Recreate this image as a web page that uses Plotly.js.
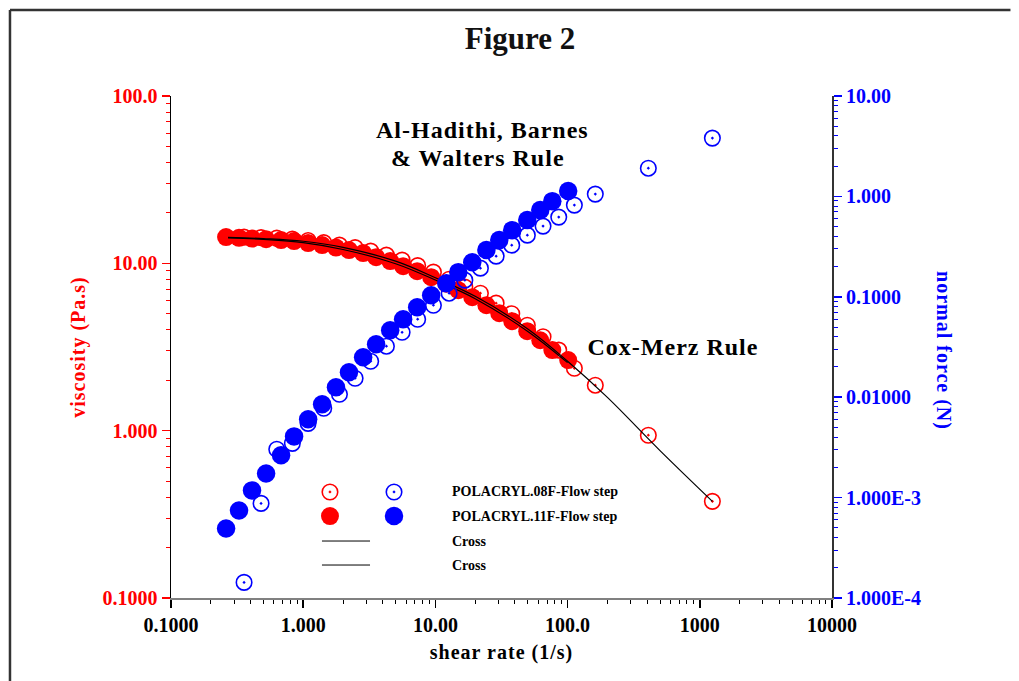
<!DOCTYPE html>
<html><head><meta charset="utf-8">
<script src="https://cdn.plot.ly/plotly-3.0.1.min.js"></script>
<style>
html,body{margin:0;padding:0;background:#fff;overflow:hidden;}
#chart{width:1019px;height:681px;}
.xtitle,.ytitle{letter-spacing:1px;}
.annotation[data-index="4"] .annotation-text,
.annotation[data-index="5"] .annotation-text,
.annotation[data-index="6"] .annotation-text,
.annotation[data-index="7"] .annotation-text{letter-spacing:1px;}
</style></head><body><div id="chart"></div>
<script>
// ---- data ----
const rate11  = [0.261,0.327,0.410,0.524,0.680,0.853,1.09,1.39,1.77,2.22,2.84,3.56,4.55,5.70,7.28,9.29,12.1,14.9,19.0,24.3,30.4,38.1,49.5,62.1,76.6,101];
const visc11  = [14.35,14.20,14.05,13.95,13.77,13.58,13.21,12.85,12.42,12.00,11.51,10.89,10.31,9.62,8.98,8.27,7.56,6.91,6.28,5.62,5.04,4.51,3.93,3.47,3.03,2.64];
const force11 = [4.93e-4,7.45e-4,1.18e-3,1.74e-3,2.64e-3,4.07e-3,6.02e-3,8.5e-3,0.01256,0.0177,0.0250,0.0337,0.0465,0.0598,0.0787,0.1037,0.1367,0.176,0.221,0.292,0.367,0.461,0.581,0.730,0.897,1.13];

const rate08  = [0.357,0.480,0.631,0.828,1.089,1.43,1.88,2.47,3.24,4.26,5.60,7.34,9.66,12.7,16.7,21.9,28.8,37.8,49.6,65.2,85.7,112.5,162,408,1245];
const visc08  = [14.35,14.25,14.15,13.95,13.68,13.30,12.85,12.42,11.83,11.19,10.45,9.69,8.86,8.04,7.21,6.63,5.78,5.00,4.27,3.64,3.03,2.36,1.87,0.939,0.378];
const force08 = [1.43e-4,8.75e-4,3.03e-3,3.47e-3,5.49e-3,7.75e-3,0.0107,0.01545,0.0228,0.0322,0.0443,0.0598,0.0824,0.1086,0.1465,0.193,0.254,0.327,0.411,0.506,0.622,0.819,1.054,1.91,3.81];

const crossRate08 = [0.27,0.5,1,2,5,10,20,50,100,200,500,1245];
const crossVisc08 = [14.3,14.05,13.55,12.45,10.3,8.2,6.35,4.05,2.6,1.58,0.76,0.378];
const crossRate11 = [0.27,0.5,1,2,5,10,20,50,100];
const crossVisc11 = [14.2,13.9,13.3,12.1,9.95,7.95,6.15,3.92,2.55];

const xTickVals = [0.1,1,10,100,1000,10000];
const xTickText = ['0.1000','1.000','10.00','100.0','1000','10000'];
const viscTickVals = [0.1,1,10,100];
const viscTickText = ['0.1000','1.000','10.00','100.0'];
const forceTickVals = [1e-4,1e-3,0.01,0.1,1,10];
const forceTickText = ['1.000E-4','1.000E-3','0.01000','0.1000','1.000','10.00'];

const legendLabels = ['POLACRYL.08F-Flow step','POLACRYL.11F-Flow step','Cross','Cross'];

// ---- styling ----
const F = '"Liberation Serif","Times New Roman",serif';
const RED = '#ff0000', BLUE = '#0000ff';
function minorTicks(lo, hi){ const a=[]; for(let d=lo; d<hi; d++){ for(let k=2;k<=9;k++) a.push(k*Math.pow(10,d)); } return a; }

const openRed  = {symbol:'circle-open-dot', size:15.5, color:RED, line:{color:RED,width:1.6}};
const fillRed  = {symbol:'circle', size:18, color:RED, line:{width:0}};
const openBlue = {symbol:'circle-open-dot', size:15.5, color:BLUE, line:{color:BLUE,width:1.6}};
const fillBlue = {symbol:'circle', size:18.5, color:BLUE, line:{width:0}};

const traces = [
  {x:rate08, y:visc08, xaxis:'x', yaxis:'y', mode:'markers', marker:openRed},
  {x:rate11, y:visc11, xaxis:'x', yaxis:'y', mode:'markers', marker:fillRed},
  {x:crossRate08, y:crossVisc08, xaxis:'x', yaxis:'y', mode:'lines', line:{color:'#000',width:1.2,shape:'spline'}},
  {x:crossRate11, y:crossVisc11, xaxis:'x', yaxis:'y', mode:'lines', line:{color:'#000',width:1.2,shape:'spline'}},
  {x:rate08, y:force08, xaxis:'x', yaxis:'y2', mode:'markers', marker:openBlue},
  {x:rate11, y:force11, xaxis:'x', yaxis:'y2', mode:'markers', marker:fillBlue},
];

// legend drawn on a hidden overlay (0..1 axes spanning the plot area)
const LX_RED = 0.2405, LX_BLUE = 0.3374, LX_TEXT = 0.4221;
const LROWS = [0.2112, 0.1633, 0.1135, 0.0657];
traces.push({x:[LX_RED], y:[LROWS[0]], xaxis:'x3', yaxis:'y3', mode:'markers', marker:openRed});
traces.push({x:[LX_BLUE], y:[LROWS[0]], xaxis:'x3', yaxis:'y3', mode:'markers', marker:openBlue});
traces.push({x:[LX_RED], y:[LROWS[1]], xaxis:'x3', yaxis:'y3', mode:'markers', marker:fillRed});
traces.push({x:[LX_BLUE], y:[LROWS[1]], xaxis:'x3', yaxis:'y3', mode:'markers', marker:fillBlue});
traces.push({x:[0.2284,0.3011], y:[LROWS[2],LROWS[2]], xaxis:'x3', yaxis:'y3', mode:'lines', line:{color:'#000',width:1}});
traces.push({x:[0.2284,0.3011], y:[LROWS[3],LROWS[3]], xaxis:'x3', yaxis:'y3', mode:'lines', line:{color:'#000',width:1}});

// legend labels first (indices 0-3), then the other texts (indices 4-7)
const annotations = legendLabels.map((t,i) => ({text:t, xref:'paper', yref:'paper', x:LX_TEXT, y:LROWS[i],
  xanchor:'left', yanchor:'middle', showarrow:false, font:{family:F, size:14, color:'#000', weight:'bold'}}));

[
  {text:'Al-Hadithi, Barnes', x:0.4705, y:0.9323},
  {text:'& Walters Rule', x:0.4644, y:0.8765},
  {text:'Cox-Merz Rule', x:0.7595, y:0.50},
].forEach(a => annotations.push(Object.assign({xref:'paper', yref:'paper', xanchor:'center', yanchor:'middle', showarrow:false,
  font:{family:F, size:24, color:'#000', weight:'bold'}}, a)));

annotations.push({text:'normal force (N)', xref:'paper', yref:'paper', x:1.1694, y:0.492, textangle:90,
  xanchor:'center', yanchor:'middle', showarrow:false, font:{family:F, size:20, color:BLUE, weight:'bold'}});

const FX0 = -0.2436, FX1 = 1.27, FY0 = -0.3, FY1 = 1.1713;
const layout = {
  width:1019, height:681,
  margin:{l:171, r:187, t:96, b:83, autoexpand:false},
  paper_bgcolor:'#fff', plot_bgcolor:'rgba(0,0,0,0)',
  showlegend:false, hovermode:false,
  title:{text:'Figure 2', x:0.5103, xanchor:'center', y:0.944, yanchor:'middle',
    font:{family:F, size:31, color:'#111', weight:'bold'}},
  xaxis:{type:'log', range:[-1,4], tickvals:xTickVals, ticktext:xTickText,
    ticks:'outside', ticklen:8, tickwidth:1.5, tickcolor:'#000',
    minor:{tickvals:minorTicks(-1,4), ticks:'outside', ticklen:4, tickwidth:1, tickcolor:'#000'},
    showline:true, linecolor:'#808080', linewidth:2, showgrid:false, zeroline:false,
    tickfont:{family:F, size:20, color:'#000', weight:'bold'},
    title:{text:'shear rate (1/s)', standoff:10, font:{family:F, size:20, color:'#000', weight:'bold'}}},
  yaxis:{type:'log', range:[-1,2], tickvals:viscTickVals, ticktext:viscTickText,
    ticks:'outside', ticklen:8, tickwidth:1.5, tickcolor:RED,
    minor:{tickvals:minorTicks(-1,2), ticks:'outside', ticklen:4, tickwidth:1, tickcolor:RED},
    showline:true, linecolor:'#000', linewidth:1.5, showgrid:false, zeroline:false,
    tickfont:{family:F, size:20, color:RED, weight:'bold'},
    title:{text:'viscosity (Pa.s)', standoff:11, font:{family:F, size:20, color:RED, weight:'bold'}}},
  yaxis2:{type:'log', range:[-4,1], overlaying:'y', side:'right', tickvals:forceTickVals, ticktext:forceTickText,
    ticks:'outside', ticklen:8, tickwidth:1.5, tickcolor:BLUE,
    minor:{tickvals:minorTicks(-4,1), ticks:'outside', ticklen:4, tickwidth:1, tickcolor:BLUE},
    showline:true, linecolor:'#333', linewidth:2, showgrid:false, zeroline:false,
    tickfont:{family:F, size:20, color:BLUE, weight:'bold'}},
  xaxis3:{overlaying:'x', anchor:'y3', range:[0,1], visible:false, fixedrange:true},
  yaxis3:{overlaying:'y', anchor:'x3', range:[0,1], visible:false, fixedrange:true},
  annotations:annotations,
  shapes:[
    {type:'line', xref:'paper', yref:'paper', x0:FX0, x1:FX0, y0:FY0, y1:FY1, line:{color:'#333', width:2.5}, layer:'below'},
    {type:'line', xref:'paper', yref:'paper', x0:FX0, x1:FX1, y0:FY1, y1:FY1, line:{color:'#333', width:2.5}, layer:'below'}
  ]
};

Plotly.newPlot('chart', traces, layout, {staticPlot:true, displayModeBar:false});
</script></body></html>
